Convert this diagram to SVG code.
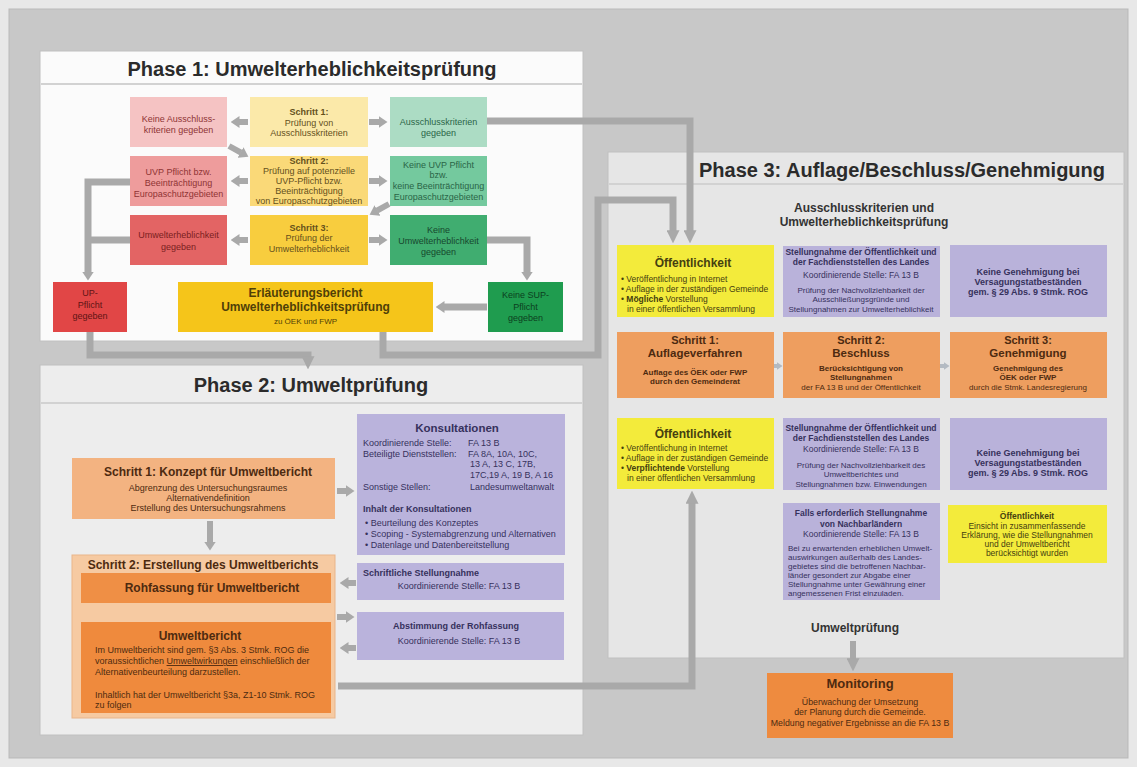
<svg xmlns="http://www.w3.org/2000/svg" width="1137" height="767" viewBox="0 0 1137 767">
<defs>
<style>
text{font-family:"Liberation Sans",Arial,Helvetica,sans-serif;fill:#333}
.c{text-anchor:middle}
.b{font-weight:bold}
.ttl{font-size:20px;font-weight:bold;fill:#2b2b2b}
.s8{font-size:8px}
.s85{font-size:8.5px}
.s9{font-size:9px}
.s11{font-size:11px}
.s12{font-size:12px}
.s13{font-size:13px}
.tr{fill:#8e3434}
.ty{fill:#64501c}
.tg{fill:#2a6547}
.tp{fill:#36315c}
.to{fill:#4d2a10}
.tl{fill:#454010}
.con{fill:none;stroke:#a9a9a9;stroke-width:7}
.arr{fill:none;stroke:#a9a9a9;stroke-width:6}
.panel{stroke:#c0c0c0;stroke-width:1}
.sep{stroke:#d2d2d2;stroke-width:2}
</style>
<marker id="ah" viewBox="0 0 10 10" refX="0.5" refY="5" markerWidth="13" markerHeight="13" markerUnits="userSpaceOnUse" orient="auto"><path d="M0,0 L10,5 L0,10 z" fill="#a9a9a9"/></marker>
<marker id="ahs" viewBox="0 0 9 12" refX="0.5" refY="6" markerWidth="9" markerHeight="12" markerUnits="userSpaceOnUse" orient="auto"><path d="M0,0 L9,6 L0,12 z" fill="#a9a9a9"/></marker>
<marker id="ahf" viewBox="0 0 9 12" refX="0.5" refY="6" markerWidth="9" markerHeight="12" markerUnits="userSpaceOnUse" orient="auto"><path d="M0,0 L9,6 L0,12 z" fill="#d9b9a0"/></marker>
<marker id="ahg" viewBox="0 0 6 8" refX="0.5" refY="4" markerWidth="6" markerHeight="8" markerUnits="userSpaceOnUse" orient="auto"><path d="M0,0 L6,4 L0,8 z" fill="#b3bac2"/></marker>
</defs>

<rect x="0" y="0" width="1137" height="767" fill="#e8e8e8"/>
<rect x="9" y="9" width="1119" height="749" fill="#c8c8c8" stroke="#b9b9b9"/>

<g id="phase1">
<rect class="panel" x="40" y="51" width="543" height="290" fill="#fbfbfb"/>
<line class="sep" x1="41" y1="84" x2="582" y2="84"/>
<text class="ttl c" x="312" y="76">Phase 1: Umwelterheblichkeitsprüfung</text>
</g>
<g id="phase2">
<rect class="panel" x="40" y="365" width="543" height="370" fill="#ededed"/>
<line class="sep" x1="41" y1="403" x2="582" y2="403"/>
<text class="ttl c" x="311" y="392">Phase 2: Umweltprüfung</text>
</g>
<g id="phase3">
<rect class="panel" x="608" y="152" width="516" height="506" fill="#e6e6e6"/>
<line class="sep" x1="609" y1="184" x2="1123" y2="184"/>
<text class="ttl c" x="902" y="177">Phase 3: Auflage/Beschluss/Genehmigung</text>
</g>

<g id="connectors">
<path class="arr" d="M248,122 H239" marker-end="url(#ahs)"/>
<path class="arr" d="M369,122 H379" marker-end="url(#ahs)"/>
<path class="arr" d="M229,146 L241,152.7" marker-end="url(#ahs)"/>
<path class="arr" d="M248,181 H239" marker-end="url(#ahs)"/>
<path class="arr" d="M369,181 H379" marker-end="url(#ahs)"/>
<path class="arr" d="M389,204 L377,210.7" marker-end="url(#ahs)"/>
<path class="arr" d="M248,240 H239" marker-end="url(#ahs)"/>
<path class="arr" d="M369,240 H379" marker-end="url(#ahs)"/>
<path class="con" d="M130,182 H88 V272" marker-end="url(#ahs)"/>
<path class="con" d="M130,240 H88"/>
<path class="con" d="M487,240 H527 V272" marker-end="url(#ahs)"/>
<path class="con" d="M487,307 H444" marker-end="url(#ahs)"/>
<path class="con" d="M487,121 H690 V231" marker-end="url(#ah)"/>
<path class="con" d="M90,332 V355 H308 V357" marker-end="url(#ah)"/>
<path class="con" d="M383,332 V355 H598 V200 H673 V231" marker-end="url(#ah)"/>
<path class="con" d="M338,686 H692 V503" marker-end="url(#ah)"/>
<path class="arr" d="M210,521 V542" marker-end="url(#ahs)"/>
<path d="M212,605 V611" fill="none" stroke="#d9b9a0" stroke-width="5" marker-end="url(#ahf)"/>
<path class="arr" d="M337,491 H346" marker-end="url(#ahs)"/>
<path class="arr" d="M356,583 H348" marker-end="url(#ahs)"/>
<path class="arr" d="M337,617 H346" marker-end="url(#ahs)"/>
<path class="arr" d="M356,648 H348" marker-end="url(#ahs)"/>
<path d="M774,366 H777" fill="none" stroke="#b3bac2" stroke-width="4" marker-end="url(#ahg)"/>
<path d="M940,366 H944" fill="none" stroke="#b3bac2" stroke-width="4" marker-end="url(#ahg)"/>
<path class="arr" d="M853,641 V659" marker-end="url(#ah)"/>
</g>

<g id="p1-keine-ausschluss">
<rect x="130" y="97" width="97" height="50" fill="#f5c3c3"/>
<text class="c s9 tr" x="178.5" y="122">Keine Ausschluss-</text>
<text class="c s9 tr" x="178.5" y="133">kriterien gegeben</text>
</g>
<g id="p1-schritt1">
<rect x="250" y="97" width="118" height="50" fill="#fbe9a9"/>
<text class="c s9 b ty" x="309" y="115">Schritt 1:</text>
<text class="c s9 ty" x="309" y="126">Prüfung von</text>
<text class="c s9 ty" x="309" y="136">Ausschlusskriterien</text>
</g>
<g id="p1-ausschluss">
<rect x="390" y="97" width="97" height="50" fill="#acdcc4"/>
<text class="c s9 tg" x="438.5" y="125">Ausschlusskriterien</text>
<text class="c s9 tg" x="438.5" y="136">gegeben</text>
</g>
<g id="p1-uvp">
<rect x="130" y="156" width="97" height="50" fill="#ee9c9c"/>
<text class="c s9 tr" x="178.5" y="175">UVP Pflicht bzw.</text>
<text class="c s9 tr" x="178.5" y="186">Beeinträchtigung</text>
<text class="c s9 tr" x="178.5" y="197">Europaschutzgebieten</text>
</g>
<g id="p1-schritt2">
<rect x="250" y="156" width="118" height="50" fill="#fad978"/>
<text class="c s9 b ty" x="309" y="164">Schritt 2:</text>
<text class="c s9 ty" x="309" y="174">Prüfung auf potenzielle</text>
<text class="c s9 ty" x="309" y="184">UVP-Pflicht bzw.</text>
<text class="c s9 ty" x="309" y="194">Beeinträchtigung</text>
<text class="c s9 ty" x="309" y="204">von Europaschutzgebieten</text>
</g>
<g id="p1-keine-uvp">
<rect x="390" y="156" width="97" height="50" fill="#74c99e"/>
<text class="c s9 tg" x="438.5" y="168">Keine UVP Pflicht</text>
<text class="c s9 tg" x="438.5" y="178">bzw.</text>
<text class="c s9 tg" x="438.5" y="189">keine Beeinträchtigung</text>
<text class="c s9 tg" x="438.5" y="200">Europaschutzgebieten</text>
</g>
<g id="p1-umwelterh">
<rect x="130" y="215" width="97" height="50" fill="#e36464"/>
<text class="c s9" x="178.5" y="238" style="fill:#7a1e1e">Umwelterheblichkeit</text>
<text class="c s9" x="178.5" y="250" style="fill:#7a1e1e">gegeben</text>
</g>
<g id="p1-schritt3">
<rect x="250" y="215" width="118" height="50" fill="#f8cd3e"/>
<text class="c s9 b ty" x="309" y="231">Schritt 3:</text>
<text class="c s9 ty" x="309" y="241">Prüfung der</text>
<text class="c s9 ty" x="309" y="252">Umwelterheblichkeit</text>
</g>
<g id="p1-keine-umwelterh">
<rect x="390" y="215" width="97" height="50" fill="#40ad70"/>
<text class="c s9" x="438.5" y="233" style="fill:#17482e">Keine</text>
<text class="c s9" x="438.5" y="244" style="fill:#17482e">Umwelterheblichkeit</text>
<text class="c s9" x="438.5" y="255" style="fill:#17482e">gegeben</text>
</g>
<g id="p1-up">
<rect x="53" y="282" width="74" height="50" fill="#e14646"/>
<text class="c s9" x="90" y="296" style="fill:#5e1515">UP-</text>
<text class="c s9" x="90" y="308" style="fill:#5e1515">Pflicht</text>
<text class="c s9" x="90" y="319" style="fill:#5e1515">gegeben</text>
</g>
<g id="p1-erlaeuterung">
<rect x="178" y="282" width="255" height="50" fill="#f5c51a"/>
<text class="c s12 b" x="305.5" y="297" style="fill:#4f3f08">Erläuterungsbericht</text>
<text class="c s12 b" x="305.5" y="311" style="fill:#4f3f08">Umwelterheblichkeitsprüfung</text>
<text class="c s8" x="305.5" y="324" style="fill:#4f3f08">zu ÖEK und FWP</text>
</g>
<g id="p1-keine-sup">
<rect x="488" y="282" width="75" height="50" fill="#1f9c4f"/>
<text class="c s9" x="525.5" y="298" style="fill:#0c3f20">Keine SUP-</text>
<text class="c s9" x="525.5" y="310" style="fill:#0c3f20">Pflicht</text>
<text class="c s9" x="525.5" y="321" style="fill:#0c3f20">gegeben</text>
</g>

<g id="p2-schritt1">
<rect x="72" y="458" width="263" height="61" fill="#f3b381"/>
<text class="c s12 b to" x="208" y="476">Schritt 1: Konzept für Umweltbericht</text>
<text class="c s9 to" x="208" y="491">Abgrenzung des Untersuchungsraumes</text>
<text class="c s9 to" x="208" y="501">Alternativendefinition</text>
<text class="c s9 to" x="208" y="511">Erstellung des Untersuchungsrahmens</text>
</g>
<g id="p2-schritt2">
<rect x="72" y="555" width="263" height="163" fill="#f6caa2" stroke="#e9b58a"/>
<text class="c s12 b to" x="203" y="569">Schritt 2: Erstellung des Umweltberichts</text>
</g>
<g id="p2-rohfassung">
<rect x="81" y="573" width="250" height="30" fill="#ef8f45"/>
<text class="c s12 b to" x="212" y="592">Rohfassung für Umweltbericht</text>
</g>
<g id="p2-umweltbericht">
<rect x="81" y="622" width="250" height="91" fill="#ef8a3d"/>
<text class="c s12 b to" x="200" y="640">Umweltbericht</text>
<text class="s9 to" x="95" y="653">Im Umweltbericht sind gem. §3 Abs. 3 Stmk. ROG die</text>
<text class="s9 to" x="95" y="664">voraussichtlichen <tspan text-decoration="underline">Umweltwirkungen</tspan> einschließlich der</text>
<text class="s9 to" x="95" y="675">Alternativenbeurteilung darzustellen.</text>
<text class="s9 to" x="95" y="698">Inhaltlich hat der Umweltbericht §3a, Z1-10 Stmk. ROG</text>
<text class="s9 to" x="95" y="708">zu folgen</text>
</g>
<g id="p2-konsultationen">
<rect x="357" y="414" width="208" height="141" fill="#bab3dc"/>
<text class="c b tp" x="457" y="432" style="font-size:11.5px">Konsultationen</text>
<text class="s9 tp" x="363" y="446">Koordinierende Stelle:</text>
<text class="s9 tp" x="468" y="446">FA 13 B</text>
<text class="s9 tp" x="363" y="457">Beteiligte Dienststellen:</text>
<text class="s9 tp" x="468" y="457">FA 8A, 10A, 10C,</text>
<text class="s9 tp" x="470" y="467">13 A, 13 C, 17B,</text>
<text class="s9 tp" x="470" y="478">17C,19 A, 19 B, A 16</text>
<text class="s9 tp" x="363" y="490">Sonstige Stellen:</text>
<text class="s9 tp" x="470" y="490">Landesumweltanwalt</text>
<text class="s9 b tp" x="363" y="512">Inhalt der Konsultationen</text>
<text class="s9 tp" x="365" y="526">•  Beurteilung des Konzeptes</text>
<text class="s9 tp" x="365" y="537">•  Scoping - Systemabgrenzung und Alternativen</text>
<text class="s9 tp" x="365" y="548">•  Datenlage und Datenbereitstellung</text>
</g>
<g id="p2-schriftliche">
<rect x="357" y="563" width="207" height="37" fill="#bab3dc"/>
<text class="s9 b tp" x="363" y="576">Schriftliche Stellungnahme</text>
<text class="c s9 tp" x="459" y="589">Koordinierende Stelle: FA 13 B</text>
</g>
<g id="p2-abstimmung">
<rect x="357" y="612" width="207" height="48" fill="#bab3dc"/>
<text class="c s9 b tp" x="456" y="629">Abstimmung der Rohfassung</text>
<text class="c s9 tp" x="459" y="644">Koordinierende Stelle: FA 13 B</text>
</g>

<g id="p3-subtitle">
<text class="c s12 b" x="864" y="212">Ausschlusskriterien und</text>
<text class="c s12 b" x="864" y="226">Umwelterheblichkeitsprüfung</text>
</g>
<g id="p3-oeff1">
<rect x="617" y="245" width="157" height="72" fill="#f3eb3b"/>
<text class="c s12 b tl" x="693" y="267">Öffentlichkeit</text>
<text class="s85 tl" x="621" y="282">• Veröffentlichung in Internet</text>
<text class="s85 tl" x="621" y="292">• Auflage in der zuständigen Gemeinde</text>
<text class="s85 tl" x="621" y="302">• <tspan font-weight="bold">Mögliche</tspan> Vorstellung</text>
<text class="s85 tl" x="627" y="312">in einer öffentlichen Versammlung</text>
</g>
<g id="p3-stellung1">
<rect x="783" y="246" width="157" height="71" fill="#b9b2da"/>
<text class="c s85 b tp" x="861" y="255">Stellungnahme der Öffentlichkeit  und</text>
<text class="c s85 b tp" x="861" y="265">der Fachdienststellen des Landes</text>
<text class="c s85 tp" x="861" y="278">Koordinierende Stelle: FA 13 B</text>
<text class="c s8 tp" x="861" y="293">Prüfung der Nachvollziehbarkeit der</text>
<text class="c s8 tp" x="861" y="302">Ausschließungsgründe und</text>
<text class="c s8 tp" x="861" y="312">Stellungnahmen zur Umwelterheblichkeit</text>
</g>
<g id="p3-keinegen1">
<rect x="950" y="245" width="157" height="72" fill="#b9b2da"/>
<text class="c s9 b tp" x="1028" y="275">Keine Genehmigung bei</text>
<text class="c s9 b tp" x="1028" y="285">Versagungstatbeständen</text>
<text class="c s9 b tp" x="1028" y="295">gem. § 29 Abs. 9 Stmk. ROG</text>
</g>
<g id="p3-schritt1">
<rect x="617" y="332" width="157" height="66" fill="#ee9e5f"/>
<text class="c s11 b to" x="695" y="344">Schritt 1:</text>
<text class="c b to" x="695" y="357" style="font-size:11.5px">Auflageverfahren</text>
<text class="c s8 b to" x="695" y="375">Auflage des ÖEK oder FWP</text>
<text class="c s8 b to" x="695" y="384">durch den Gemeinderat</text>
</g>
<g id="p3-schritt2">
<rect x="783" y="332" width="157" height="66" fill="#ee9e5f"/>
<text class="c s11 b to" x="861" y="344">Schritt 2:</text>
<text class="c b to" x="861" y="357" style="font-size:11.5px">Beschluss</text>
<text class="c s8 b to" x="861" y="371">Berücksichtigung von</text>
<text class="c s8 b to" x="861" y="380">Stellungnahmen</text>
<text class="c s8 to" x="861" y="390">der FA 13 B und der Öffentlichkeit</text>
</g>
<g id="p3-schritt3">
<rect x="950" y="332" width="157" height="66" fill="#ee9e5f"/>
<text class="c s11 b to" x="1028" y="344">Schritt 3:</text>
<text class="c b to" x="1028" y="357" style="font-size:11.5px">Genehmigung</text>
<text class="c s8 b to" x="1028" y="371">Genehmigung des</text>
<text class="c s8 b to" x="1028" y="380">ÖEK oder FWP</text>
<text class="c s8 to" x="1028" y="390">durch die Stmk. Landesregierung</text>
</g>
<g id="p3-oeff2">
<rect x="617" y="418" width="157" height="71" fill="#f3eb3b"/>
<text class="c s12 b tl" x="693" y="438">Öffentlichkeit</text>
<text class="s85 tl" x="621" y="451">• Veröffentlichung in Internet</text>
<text class="s85 tl" x="621" y="461">• Auflage in der zuständigen Gemeinde</text>
<text class="s85 tl" x="621" y="471">• <tspan font-weight="bold">Verpflichtende</tspan> Vorstellung</text>
<text class="s85 tl" x="627" y="481">in einer öffentlichen Versammlung</text>
</g>
<g id="p3-stellung2">
<rect x="783" y="418" width="157" height="72" fill="#b9b2da"/>
<text class="c s85 b tp" x="861" y="431">Stellungnahme der Öffentlichkeit  und</text>
<text class="c s85 b tp" x="861" y="441">der Fachdienststellen des Landes</text>
<text class="c s85 tp" x="861" y="452">Koordinierende Stelle: FA 13 B</text>
<text class="c s8 tp" x="861" y="468">Prüfung der Nachvollziehbarkeit des</text>
<text class="c s8 tp" x="861" y="477">Umweltberichtes und</text>
<text class="c s8 tp" x="861" y="487">Stellungnahmen bzw. Einwendungen</text>
</g>
<g id="p3-keinegen2">
<rect x="950" y="418" width="157" height="72" fill="#b9b2da"/>
<text class="c s9 b tp" x="1028" y="456">Keine Genehmigung bei</text>
<text class="c s9 b tp" x="1028" y="466">Versagungstatbeständen</text>
<text class="c s9 b tp" x="1028" y="476">gem. § 29 Abs. 9 Stmk. ROG</text>
</g>
<g id="p3-falls">
<rect x="783" y="503" width="157" height="97" fill="#b9b2da"/>
<text class="c s85 b tp" x="861" y="516">Falls erforderlich Stellungnahme</text>
<text class="c s85 b tp" x="861" y="527">von Nachbarländern</text>
<text class="c s85 tp" x="861" y="537">Koordinierende Stelle: FA 13 B</text>
<text class="s8 tp" x="788" y="551">Bei zu erwartenden erheblichen Umwelt-</text>
<text class="s8 tp" x="788" y="560">auswirkungen außerhalb des Landes-</text>
<text class="s8 tp" x="788" y="569">gebietes sind die betroffenen Nachbar-</text>
<text class="s8 tp" x="788" y="578">länder gesondert zur Abgabe einer</text>
<text class="s8 tp" x="788" y="587">Stellungnahme unter Gewährung einer</text>
<text class="s8 tp" x="788" y="596">angemessenen Frist einzuladen.</text>
</g>
<g id="p3-oeff3">
<rect x="948" y="505" width="159" height="58" fill="#f3eb3b"/>
<text class="c s85 b tl" x="1027" y="519">Öffentlichkeit</text>
<text class="c s85 tl" x="1027" y="529">Einsicht in zusammenfassende</text>
<text class="c s85 tl" x="1027" y="538">Erklärung, wie die Stellungnahmen</text>
<text class="c s85 tl" x="1027" y="547">und der Umweltbericht</text>
<text class="c s85 tl" x="1027" y="556">berücksichtigt wurden</text>
</g>
<g id="p3-umweltpruefung">
<text class="c s12 b" x="855" y="632">Umweltprüfung</text>
</g>
<g id="monitoring">
<rect x="767" y="673" width="186" height="65" fill="#ee8b3f"/>
<text class="c s13 b to" x="860" y="688">Monitoring</text>
<text class="c to" x="860" y="705" style="font-size:8.8px">Überwachung der Umsetzung</text>
<text class="c to" x="860" y="715" style="font-size:8.8px">der Planung durch die Gemeinde.</text>
<text class="c to" x="860" y="726" style="font-size:8.8px">Meldung negativer Ergebnisse an die FA 13 B</text>
</g>
</svg>
